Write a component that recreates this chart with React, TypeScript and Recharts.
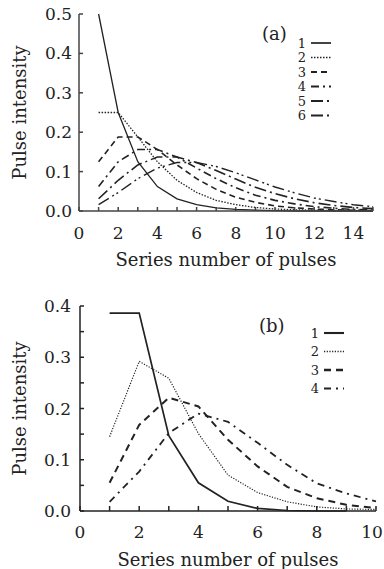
import { LineChart, Line, XAxis, YAxis, Legend } from "recharts";

const FONT = "DejaVu Serif";
const INK = "#222";

// panel (a)
const pulsesA = [1, 2, 3, 4, 5, 6, 7, 8, 9, 10, 11, 12, 13, 14, 15];
const a1 = [0.5, 0.25, 0.125, 0.062, 0.031, 0.016, 0.008, 0.004, 0.002, 0.001, 0, 0, 0, 0, 0];
const a2 = [0.25, 0.25, 0.188, 0.125, 0.078, 0.047, 0.027, 0.016, 0.009, 0.005, 0.003, 0.002, 0.001, 0.001, 0];
const a3 = [0.125, 0.188, 0.188, 0.156, 0.117, 0.082, 0.055, 0.035, 0.022, 0.013, 0.008, 0.005, 0.003, 0.002, 0.001];
const a4 = [0.062, 0.125, 0.156, 0.156, 0.137, 0.109, 0.082, 0.059, 0.04, 0.027, 0.018, 0.011, 0.007, 0.004, 0.003];
const a5 = [0.031, 0.078, 0.117, 0.137, 0.137, 0.123, 0.103, 0.081, 0.06, 0.044, 0.031, 0.021, 0.014, 0.009, 0.006];
const a6 = [0.016, 0.047, 0.082, 0.109, 0.123, 0.123, 0.113, 0.097, 0.079, 0.061, 0.046, 0.033, 0.024, 0.016, 0.011];
const xTicksA = [0, 1, 2, 3, 4, 5, 6, 7, 8, 9, 10, 11, 12, 13, 14, 15];
const yTicksA = [0, 0.1, 0.2, 0.3, 0.4, 0.5];

// panel (b)
const pulsesB = [1, 2, 3, 4, 5, 6, 7, 8, 9, 10];
const b1 = [0.386, 0.386, 0.147, 0.055, 0.019, 0.005, 0.001, 0, 0, null];
const b2 = [0.145, 0.292, 0.259, 0.151, 0.07, 0.036, 0.018, 0.008, 0.004, 0.003];
const b3 = [0.055, 0.168, 0.221, 0.204, 0.139, 0.087, 0.047, 0.025, 0.012, 0.006];
const b4 = [0.018, 0.077, 0.152, 0.19, 0.174, 0.133, 0.09, 0.054, 0.034, 0.019];
const xTicksB = [0, 1, 2, 3, 4, 5, 6, 7, 8, 9, 10];
const yTicksB = [0, 0.05, 0.1, 0.15, 0.2, 0.25, 0.3, 0.35, 0.4];

const dataA = pulsesA.map((n, i) => ({ n, s1: a1[i], s2: a2[i], s3: a3[i], s4: a4[i], s5: a5[i], s6: a6[i] }));
const dataB = pulsesB.map((n, i) => ({ n, s1: b1[i], s2: b2[i], s3: b3[i], s4: b4[i] }));

const stylesA = [
  { key: "s1", name: "1", dash: undefined, w: 1.3 },
  { key: "s2", name: "2", dash: "1.5 1.5", w: 1.3 },
  { key: "s3", name: "3", dash: "6 4", w: 1.6 },
  { key: "s4", name: "4", dash: "8 4 2 4", w: 1.6 },
  { key: "s5", name: "5", dash: "12 4 2 4", w: 1.6 },
  { key: "s6", name: "6", dash: "12 4 2 3 2 4", w: 1.4 },
];

const stylesB = [
  { key: "s1", name: "1", dash: undefined, w: 1.7 },
  { key: "s2", name: "2", dash: "1.2 1.5", w: 1.2 },
  { key: "s3", name: "3", dash: "7 5", w: 2 },
  { key: "s4", name: "4", dash: "7 5 2 5", w: 1.8 },
];

const tickFont = { fill: INK, fontSize: 17, fontFamily: FONT };
const evenOnly = (v: number) => (v % 2 === 0 ? String(v) : "");

// last label of panel (b) sits a bit left so it stays on the page
const BottomTickB = ({ x, y, payload }: any) => (
  <text
    x={x + (payload.value === 10 ? -4 : 0)}
    y={y}
    dy="0.71em"
    textAnchor="middle"
    fontSize={17}
    fontFamily={FONT}
    fill={INK}
  >
    {evenOnly(payload.value)}
  </text>
);

const LegendBox = ({ tag, items, tagX, numX, lineX, firstY, step, w, h }: any) => (
  <svg width={w} height={h} style={{ display: "block" }}>
    <text x={tagX} y={18} fontSize={18} fontFamily={FONT} fill={INK}>
      {tag}
    </text>
    {items.map((it: any, i: number) => {
      const y = firstY + i * step;
      return (
        <g key={it.key}>
          <text x={numX} y={y + 4.5} fontSize={13} fontFamily={FONT} fill={INK} textAnchor="middle">
            {it.name}
          </text>
          <line x1={lineX} x2={lineX + 20} y1={y} y2={y} stroke={INK} strokeWidth={it.w + 0.4} strokeDasharray={it.dash} />
        </g>
      );
    })}
  </svg>
);

export default function App() {
  return (
    <div style={{ position: "absolute", left: 0, top: 0, width: 384, height: 569, background: "#fff" }}>
      <LineChart width={384} height={290} data={dataA} margin={{ top: 14, right: 11, left: 0, bottom: 49 }}>
        <XAxis
          dataKey="n"
          type="number"
          domain={[0, 15]}
          ticks={xTicksA}
          interval={0}
          tickFormatter={evenOnly}
          tickSize={-4}
          tickMargin={20}
          height={30}
          stroke="#444"
          strokeWidth={1.5}
          tick={tickFont}
          label={{ value: "Series number of pulses", position: "bottom", offset: 12, fontSize: 18, fontFamily: FONT, fill: INK }}
        />
        <XAxis xAxisId="top" orientation="top" type="number" domain={[0, 15]} height={0} tick={false} tickLine={false} stroke="#444" strokeWidth={1.5} />
        <YAxis
          type="number"
          domain={[0, 0.5]}
          ticks={yTicksA}
          interval={0}
          tickFormatter={(v: number) => v.toFixed(1)}
          tickSize={-4}
          tickMargin={11}
          width={79}
          stroke="#444"
          strokeWidth={1.5}
          tick={tickFont}
          label={{ value: "Pulse intensity", angle: -90, position: "insideLeft", offset: 20, fontSize: 18, fontFamily: FONT, fill: INK, style: { textAnchor: "middle" } }}
        />
        <YAxis yAxisId="right" orientation="right" type="number" domain={[0, 0.5]} width={0} tick={false} tickLine={false} stroke="#444" strokeWidth={1.5} />
        <Legend
          layout="horizontal"
          verticalAlign="middle"
          align="center"
          wrapperStyle={{ left: 260, top: 22, width: 110 }}
          content={() => (
            <LegendBox tag="(a)" items={stylesA} tagX={2} numX={42} lineX={51} firstY={21} step={14.5} w={110} h={100} />
          )}
        />
        {stylesA.map((s) => (
          <Line
            key={s.key}
            dataKey={s.key}
            type="linear"
            stroke={INK}
            strokeWidth={s.w}
            strokeDasharray={s.dash}
            dot={false}
            activeDot={false}
            isAnimationActive={false}
          />
        ))}
      </LineChart>
      <LineChart width={384} height={279} data={dataB} margin={{ top: 16, right: 8, left: 0, bottom: 28 }}>
        <XAxis
          dataKey="n"
          type="number"
          domain={[0, 10]}
          ticks={xTicksB}
          interval={0}
          tickSize={-5}
          tickMargin={20}
          height={30}
          stroke="#222"
          strokeWidth={1.5}
          tick={<BottomTickB />}
          label={{ value: "Series number of pulses", position: "bottom", offset: 12, fontSize: 18, fontFamily: FONT, fill: INK }}
        />
        <XAxis xAxisId="top" orientation="top" type="number" domain={[0, 10]} height={0} tick={false} tickLine={false} stroke="#222" strokeWidth={1.5} />
        <YAxis
          type="number"
          domain={[0, 0.4]}
          ticks={yTicksB}
          interval={0}
          tickFormatter={(v: number) => (Math.round(v * 100) % 10 === 0 ? v.toFixed(1) : "")}
          tickSize={-4}
          tickMargin={13}
          width={80}
          stroke="#222"
          strokeWidth={1.5}
          tick={tickFont}
          label={{ value: "Pulse intensity", angle: -90, position: "insideLeft", offset: 20, fontSize: 18, fontFamily: FONT, fill: INK, style: { textAnchor: "middle" } }}
        />
        <YAxis yAxisId="right" orientation="right" type="number" domain={[0, 0.4]} width={0} tick={false} tickLine={false} stroke="#222" strokeWidth={1.5} />
        <Legend
          layout="horizontal"
          verticalAlign="middle"
          align="center"
          wrapperStyle={{ left: 255, top: 24, width: 110 }}
          content={() => (
            <LegendBox tag="(b)" items={stylesB} tagX={4} numX={60} lineX={69} firstY={19} step={18.5} w={110} h={90} />
          )}
        />
        {stylesB.map((s) => (
          <Line
            key={s.key}
            dataKey={s.key}
            type="linear"
            stroke={INK}
            strokeWidth={s.w}
            strokeDasharray={s.dash}
            dot={false}
            activeDot={false}
            isAnimationActive={false}
          />
        ))}
      </LineChart>
    </div>
  );
}
